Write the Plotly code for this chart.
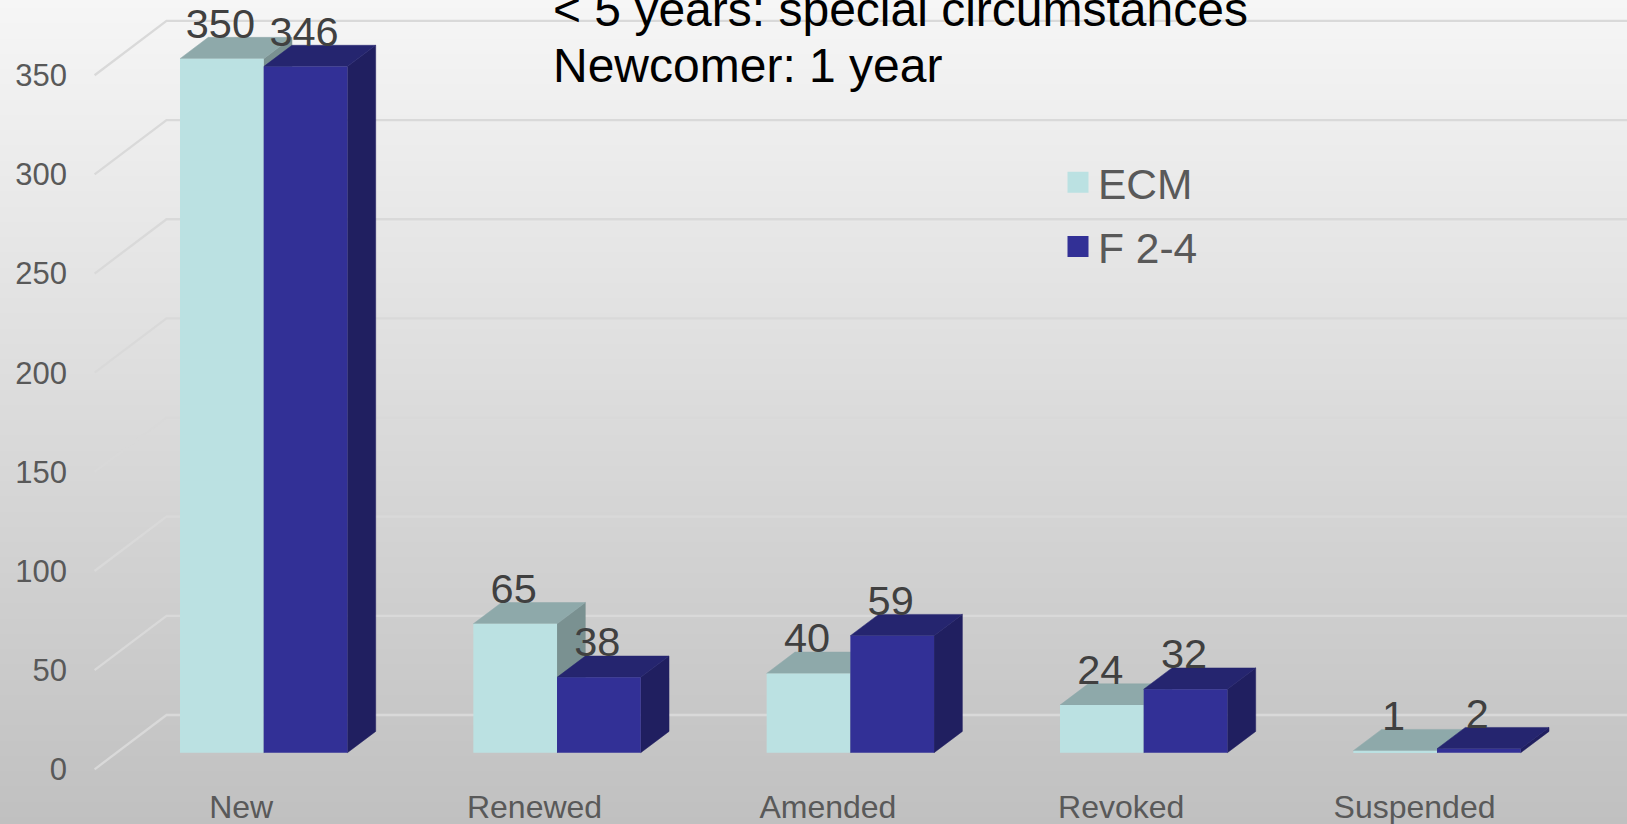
import plotly.graph_objects as go

# ---- data ----
categories = ["New", "Renewed", "Amended", "Revoked", "Suspended"]
ecm_values = [350, 65, 40, 24, 1]
f24_values = [346, 38, 59, 32, 2]
y_ticks = [0, 50, 100, 150, 200, 250, 300, 350]

# ---- geometry (pixels on the 1627x824 page) ----
W, H = 1627, 824
PX_PER_UNIT = 1.983          # px per y value
PITCH = 293.33               # px per category
CENTER0 = 263.7              # px of first group's centre
LEFT = 166.5                 # px: left end of back wall
BOTTOM = 785                 # px: bottom of plot rect
ZERO_BAR = 752.7             # px of value 0 on the bars' front plane
ZERO_BACK = 715.0            # px of value 0 on the back wall
ZERO_TICK = 769.3            # px of value 0 on the front edge
DX = 28.3 / PITCH            # bar depth in x units
DY = 21.3 / PX_PER_UNIT      # bar depth in y units
BAR_W = 83.7 / PITCH
WALL_DX = (LEFT - 94.6) / PITCH
LABEL_UP = 31.3 / PX_PER_UNIT
LABEL_LEFT = 1.5 / PITCH
TICK_SHIFT = -22.5 / PITCH
X_WALL = (LEFT - CENTER0) / PITCH
X_END = (W - CENTER0) / PITCH


def yrange(zero_px):
    return [(zero_px - BOTTOM) / PX_PER_UNIT, zero_px / PX_PER_UNIT]


ECM = dict(front="#bbe1e2", top="#8ea9aa", side="#7a9191")
F24 = dict(front="#323096", top="#25256f", side="#201f60")

fig = go.Figure()

# page background gradient
fig.add_trace(go.Heatmap(x=[0, 1], y=[0, 1], z=[[0, 0], [1, 1]], zsmooth="best",
                         colorscale=[[0, "#c0c0c0"], [1, "#f6f6f6"]], showscale=False,
                         hoverinfo="skip", xaxis="x", yaxis="y"))

# gridlines: up the left wall from the front edge, then along the back wall
grid_x, grid_y = [], []
for t in y_ticks:
    grid_x += [X_WALL - WALL_DX, X_WALL, X_END, None]
    back = t + (ZERO_BAR - ZERO_BACK) / PX_PER_UNIT
    grid_y += [t + (ZERO_BAR - ZERO_TICK) / PX_PER_UNIT, back, back, None]
fig.add_trace(go.Scatter(x=grid_x, y=grid_y, mode="lines",
                         line=dict(color="#d9d9d9", width=2.3), showlegend=False,
                         hoverinfo="skip", xaxis="x2", yaxis="y2"))


def add_depth(values, offset, style):
    for i, v in enumerate(values):
        xl = i + offset
        xr = xl + BAR_W
        fig.add_trace(go.Scatter(
            x=[xr, xr + DX, xr + DX, xr, xr], y=[0, DY, v + DY, v, 0],
            mode="lines", fill="toself", fillcolor=style["side"],
            line=dict(color=style["side"], width=0.5), showlegend=False,
            hoverinfo="skip", xaxis="x2", yaxis="y2"))
        fig.add_trace(go.Scatter(
            x=[xl, xl + DX, xr + DX, xr, xl], y=[v, v + DY, v + DY, v, v],
            mode="lines", fill="toself", fillcolor=style["top"],
            line=dict(color=style["top"], width=0.5), showlegend=False,
            hoverinfo="skip", xaxis="x2", yaxis="y2"))


add_depth(ecm_values, -BAR_W, ECM)
add_depth(f24_values, 0, F24)

# legend entries; the second also brings the tick-label axis to life
for name, style, axis in (("ECM", ECM, "y2"), ("F 2-4", F24, "y3")):
    fig.add_trace(go.Scatter(x=[None], y=[None], name=name, mode="markers", legendgroup=name,
                             marker=dict(symbol="square", size=16, color=style["front"],
                                         line=dict(color=style["front"], width=5)),
                             xaxis="x2", yaxis=axis))

# front faces
xs = list(range(len(categories)))
fig.add_trace(go.Bar(x=xs, y=ecm_values, marker=dict(color=ECM["front"], line=dict(width=0)),
                     showlegend=False, name="ECM", xaxis="x2", yaxis="y4"))
fig.add_trace(go.Bar(x=xs, y=f24_values, marker=dict(color=F24["front"], line=dict(width=0)),
                     showlegend=False, name="F 2-4", xaxis="x2", yaxis="y4"))

# value labels
for values, sign in ((ecm_values, -0.5), (f24_values, 0.5)):
    fig.add_trace(go.Scatter(x=[i + sign * BAR_W - LABEL_LEFT for i in xs],
                             y=[v + LABEL_UP for v in values],
                             mode="text", text=[str(v) for v in values], textposition="middle center",
                             textfont=dict(family="Liberation Sans", size=41.5, color="#404040"),
                             cliponaxis=False, showlegend=False, hoverinfo="skip",
                             xaxis="x2", yaxis="y4"))

y_domain = [(H - BOTTOM) / H, 1]
hidden = dict(visible=False, fixedrange=True)
fig.update_layout(
    width=W, height=H, margin=dict(l=0, r=0, t=0, b=0, autoexpand=False),
    paper_bgcolor="#c0c0c0", plot_bgcolor="rgba(0,0,0,0)",
    barmode="group", bargap=1 - 2 * BAR_W, bargroupgap=0,
    font=dict(family="Liberation Sans", color="#595959"),
    hovermode=False,
    xaxis=dict(domain=[0, 1], range=[0, 1], anchor="y", **hidden),
    yaxis=dict(domain=[0, 1], range=[0, 1], anchor="x", **hidden),
    xaxis2=dict(domain=[0, 1], range=[-CENTER0 / PITCH, X_END],
                anchor="y2", tickmode="array", tickvals=[i + TICK_SHIFT for i in xs],
                ticktext=categories, tickfont=dict(size=32, color="#595959"),
                showgrid=False, zeroline=False, showline=False, ticks="", fixedrange=True),
    yaxis2=dict(domain=y_domain, range=yrange(ZERO_BAR), anchor="x2", showticklabels=False,
                showgrid=False, zeroline=False, showline=False, ticks="", fixedrange=True),
    yaxis3=dict(domain=y_domain, range=yrange(ZERO_TICK), anchor="free", overlaying="y2",
                position=67 / W, side="left", tickmode="array", tickvals=y_ticks,
                tickfont=dict(size=31, color="#595959"), showgrid=False, zeroline=False,
                showline=False, ticks="", fixedrange=True),
    yaxis4=dict(domain=y_domain, range=yrange(ZERO_BAR), anchor="x2", overlaying="y2", **hidden),
    legend=dict(x=1058 / W, y=1 - 148 / H, xanchor="left", yanchor="top",
                bgcolor="rgba(0,0,0,0)", font=dict(size=42.5, color="#595959"),
                traceorder="grouped", tracegroupgap=6, itemclick=False, itemdoubleclick=False),
    annotations=[
        dict(text="< 5 years: special circumstances", xref="paper", yref="paper",
             x=551 / W, y=1 - 10 / H, xanchor="left", yanchor="middle", showarrow=False,
             font=dict(size=48, color="#000000")),
        dict(text="Newcomer: 1 year", xref="paper", yref="paper",
             x=551 / W, y=1 - 65 / H, xanchor="left", yanchor="middle", showarrow=False,
             font=dict(size=48, color="#000000")),
    ],
)

fig.write_html("out.html", config=dict(displayModeBar=False),
               post_script="document.body.style.margin='0';document.body.style.overflow='hidden';")
